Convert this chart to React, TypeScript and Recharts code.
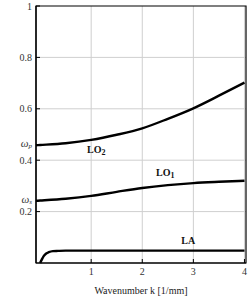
import { LineChart, Line, XAxis, YAxis, CartesianGrid, ReferenceDot, ReferenceArea } from 'recharts';

// optical branches (LO2 upper, LO1 lower)
const opticK = [-0.08, 0, 0.5, 1, 1.5, 2, 2.5, 3, 3.5, 4];
const lo2 = [0.458, 0.459, 0.466, 0.479, 0.499, 0.524, 0.561, 0.602, 0.651, 0.702];
const lo1 = [0.242, 0.243, 0.25, 0.261, 0.277, 0.292, 0.303, 0.311, 0.316, 0.32];

// acoustic branch
const acousticK = [0, 0.03, 0.07, 0.12, 0.17, 0.25, 0.35, 0.5, 1, 2, 3, 4];
const la = [0, 0.012, 0.027, 0.037, 0.042, 0.046, 0.047, 0.048, 0.048, 0.048, 0.048, 0.048];

const omegaP = 0.458;
const omegaS = 0.243;
const xTicks = [1, 2, 3, 4];
const yTicks = [0.2, omegaS, 0.4, omegaP, 0.6, 0.8, 1];
const gridY = [0.2, 0.4, 0.6, 0.8];
const xDomain = [-0.08, 4.03];

const opticData = opticK.map((k, i) => ({ k, lo2: lo2[i], lo1: lo1[i] }));
const acousticData = acousticK.map((k, i) => ({ k, la: la[i] }));

const FONT = '"Liberation Serif", "DejaVu Serif", serif';

const YTick = (props: any) => {
  const { x, y, payload } = props;
  const v = payload.value;
  const isOmega = v === omegaP || v === omegaS;
  return (
    <g>
      <line x1={x} x2={x + 4} y1={y} y2={y} stroke="#000" strokeWidth={1} />
      {isOmega ? (
        <text x={x - 4} y={y - 1} dy="0.2em" textAnchor="end" fontFamily={FONT} fill="#333">
          <tspan fontStyle="italic" fontSize={11}>ω</tspan>
          <tspan fontStyle="italic" fontSize={7} dy={1}>{v === omegaP ? 'p' : 's'}</tspan>
        </text>
      ) : (
        <text x={x - 4} y={y} dy="0.35em" textAnchor="end" fontSize={10} fontFamily={FONT} fill="#333">
          {String(v)}
        </text>
      )}
    </g>
  );
};

const XTick = (props: any) => {
  const { x, y, payload } = props;
  return (
    <g>
      <line x1={x} x2={x} y1={y} y2={y - 4} stroke="#000" strokeWidth={1} />
      <text x={x} y={y + 12} textAnchor="middle" fontSize={10} fontFamily={FONT} fill="#333">
        {payload.value}
      </text>
    </g>
  );
};

const branchLabel = (main: string, sub?: string) => (props: any) => {
  const { viewBox } = props;
  const cx = viewBox.x + viewBox.width / 2;
  const cy = viewBox.y + viewBox.height / 2;
  return (
    <text x={cx} y={cy} dy="0.35em" textAnchor="middle" fontSize={10} fontWeight="bold" fontFamily={FONT} fill="#111">
      {main}
      {sub && <tspan fontSize={8} dy={2}>{sub}</tspan>}
    </text>
  );
};

export default function App() {
  return (
    <div style={{ position: 'absolute', left: 0, top: 0, background: '#fff' }}>
      <LineChart width={250} height={297} data={opticData} margin={{ top: 6, right: 4, left: 0, bottom: 0 }}>
        <CartesianGrid stroke="#cfcfcf" horizontalValues={gridY} verticalValues={xTicks} />
        <XAxis
          type="number"
          dataKey="k"
          domain={xDomain}
          ticks={xTicks}
          allowDataOverflow
          height={34}
          tickSize={0}
          tickMargin={0}
          tickLine={false}
          interval={0}
          tick={<XTick />}
          axisLine={{ stroke: '#000', strokeWidth: 1.2 }}
          label={{ value: 'Wavenumber k [1/mm]', position: 'insideBottom', offset: 3, fontSize: 10, fontFamily: FONT, fill: '#222' }}
        />
        <YAxis
          type="number"
          domain={[0, 1]}
          ticks={yTicks}
          width={36}
          tickSize={0}
          tickMargin={0}
          tickLine={false}
          interval={0}
          tick={<YTick />}
          axisLine={{ stroke: '#000', strokeWidth: 1.2 }}
        />
        {/* frame around the plot */}
        <ReferenceArea
          x1={xDomain[0]}
          x2={xDomain[1]}
          y1={0}
          y2={1}
          fill="none"
          fillOpacity={0}
          stroke="#000"
          strokeWidth={1.2}
          ifOverflow="visible"
        />
        <Line data={opticData} dataKey="lo2" type="monotone" stroke="#000" strokeWidth={2.4} dot={false} isAnimationActive={false} />
        <Line data={opticData} dataKey="lo1" type="monotone" stroke="#000" strokeWidth={2.4} dot={false} isAnimationActive={false} />
        <Line data={acousticData} dataKey="la" type="monotone" stroke="#000" strokeWidth={2.4} dot={false} isAnimationActive={false} />
        <ReferenceDot x={1.1} y={0.44} r={0} fill="none" stroke="none" label={branchLabel('LO', '2')} />
        <ReferenceDot x={2.45} y={0.351} r={0} fill="none" stroke="none" label={branchLabel('LO', '1')} />
        <ReferenceDot x={2.9} y={0.089} r={0} fill="none" stroke="none" label={branchLabel('LA')} />
      </LineChart>
    </div>
  );
}
